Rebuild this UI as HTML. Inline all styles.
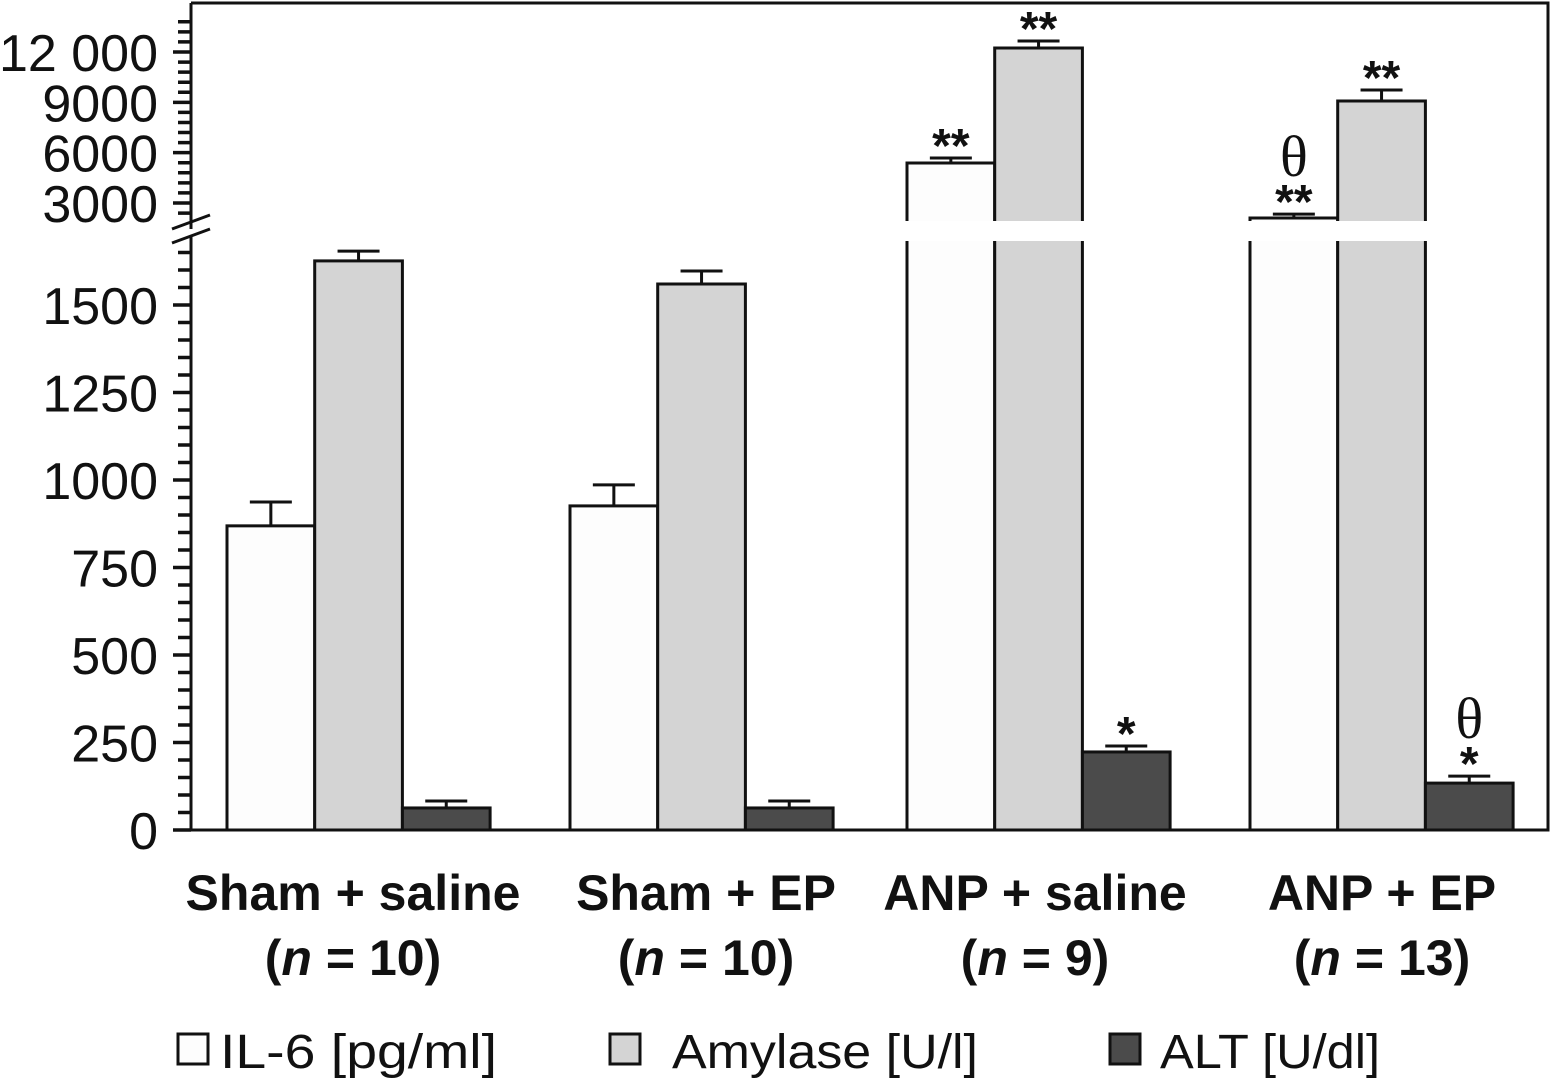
<!DOCTYPE html>
<html><head><meta charset="utf-8"><style>
body{margin:0;background:#fff;}
svg{display:block;}
text{font-family:"Liberation Sans","DejaVu Sans",sans-serif;fill:#111;}
</style></head><body>
<svg id="chart" width="1553" height="1081" viewBox="0 0 1553 1081" xmlns="http://www.w3.org/2000/svg"></svg>
<script>
const groups = ["Sham + saline","Sham + EP","ANP + saline","ANP + EP"];
const groupN = ["10","10","9","13"];
const il6 = [869, 926, 5384, 2106];
const il6Err = [68, 60, 298, 230];
const amylase = [1626, 1560, 12238, 9080];
const amylaseErr = [28, 37, 417, 655];
const alt = [63, 63, 223, 134];
const altErr = [20, 20, 17, 20];
const il6Marks = ["", "", "**", "θ**"];
const amylaseMarks = ["", "", "**", "**"];
const altMarks = ["", "", "*", "θ*"];
const lowerTicks = [0,250,500,750,1000,1250,1500];
const upperTicks = [3000,6000,9000,12000];
const upperTickLabels = ["3000","6000","9000","12 000"];

const svg = document.getElementById('chart');
const NS = "http://www.w3.org/2000/svg";
function el(tag, attrs, parent){const e=document.createElementNS(NS,tag);for(const k in attrs)e.setAttribute(k,attrs[k]);(parent||svg).appendChild(e);return e;}

const X0=191, X1=1548, YB=830;
const LOW_K=0.35, UP_Y3000=203, UP_K=0.016778;
const LOW_TOP=241, UP_BOT=220;
function yLow(v){return YB - v*LOW_K;}
function yUp(v){return UP_Y3000 - (v-3000)*UP_K;}
function yVal(v){return yLow(v) >= LOW_TOP ? yLow(v) : yUp(v);}
const groupStart=[227,570,907,1250];
const BW=87.7;

const frame = el('path',{d:`M${X0} 3 H${X1} V${YB} H${X0}`,fill:'none',stroke:'#111','stroke-width':3});



const series=[[il6,il6Err,'#fdfdfd','il6',il6Marks],[amylase,amylaseErr,'#d4d4d4','amylase',amylaseMarks],[alt,altErr,'#4b4b4b','alt',altMarks]];
series.forEach((s,si)=>{
  s[0].forEach((v,gi)=>{
    const x=groupStart[gi]+si*BW;
    const yt=yVal(v);
    const r=el('rect',{x:x,y:yt,width:BW,height:YB-yt,fill:s[2],stroke:'#111','stroke-width':3});
    
    
    const ye=yVal(v+s[1][gi]);
    const cx=x+BW/2;
    const e=el('path',{d:`M${cx} ${yt} V${ye} M${cx-21} ${ye} H${cx+21}`,stroke:'#111','stroke-width':3,fill:'none'});
    
    
    const m=s[4][gi];
    if(m){
      const stars=m.replace('θ','');
      const t=el('text',{x:cx,y:ye+4,'text-anchor':'middle','font-size':48,'font-weight':'bold'});
      t.textContent=stars;
      
      
      if(m.indexOf('θ')>=0){
        const th=el('text',{x:cx,y:ye-38,'text-anchor':'middle','font-size':58,style:'font-family:"Liberation Serif",serif'});
        th.textContent='θ';
        
        
      }
    }
  });
});
const strip=el('rect',{x:880,y:UP_BOT+1,width:556,height:LOW_TOP-UP_BOT-1,fill:'#fff'});



const ax=el('path',{d:`M${X0} 3 V229 M${X0} 236 V${YB}`,stroke:'#111','stroke-width':3,fill:'none'});


let tk='';
for(let v=0;v<=1650;v+=50){const y=yLow(v);if(y<LOW_TOP)break;const major=v%250===0;tk+=`M${major?173:178} ${y} H${X0}`;}
for(let v=1800;v<=13800;v+=600){const y=yUp(v);if(y>UP_BOT||y<10)continue;const major=v%3000===0;tk+=`M${major?173:178} ${y} H${X0}`;}
const ticks=el('path',{d:tk,stroke:'#111','stroke-width':3.5,fill:'none'});


const brk=el('path',{d:'M172 229 L210 215 M172 243 L210 229',stroke:'#111','stroke-width':3,fill:'none'});


lowerTicks.forEach(v=>{
  const t=el('text',{x:158,y:yLow(v)+19,'text-anchor':'end','font-size':52});
  t.textContent=String(v);
  
  
});
upperTicks.forEach((v,i)=>{
  const t=el('text',{x:158,y:yUp(v)+19,'text-anchor':'end','font-size':52});
  t.textContent=upperTickLabels[i];
  
  
});

const labelX=[353,706,1035,1382];
groups.forEach((g,i)=>{
  const t=el('text',{x:labelX[i],y:910,'text-anchor':'middle','font-size':50,'font-weight':'bold'});
  t.textContent=g;
  
  
  const n=el('text',{x:labelX[i],y:975,'text-anchor':'middle','font-size':50,'font-weight':'bold'});
  n.innerHTML='(<tspan font-style="italic">n</tspan> = '+groupN[i]+')';
  
  
});

const legend=[['IL-6 [pg/ml]','#fdfdfd',178,220,277],['Amylase [U/l]','#d4d4d4',610,672,306],['ALT [U/dl]','#4b4b4b',1110,1160,220]];
legend.forEach(l=>{
  const b=el('rect',{x:l[2],y:1034,width:30,height:30,fill:l[1],stroke:'#111','stroke-width':3});
  
  
  const t=el('text',{x:l[3],y:1068,'font-size':48,textLength:l[4],lengthAdjust:'spacingAndGlyphs'});
  t.textContent=l[0];
  
  
});
</script>
</body></html>
